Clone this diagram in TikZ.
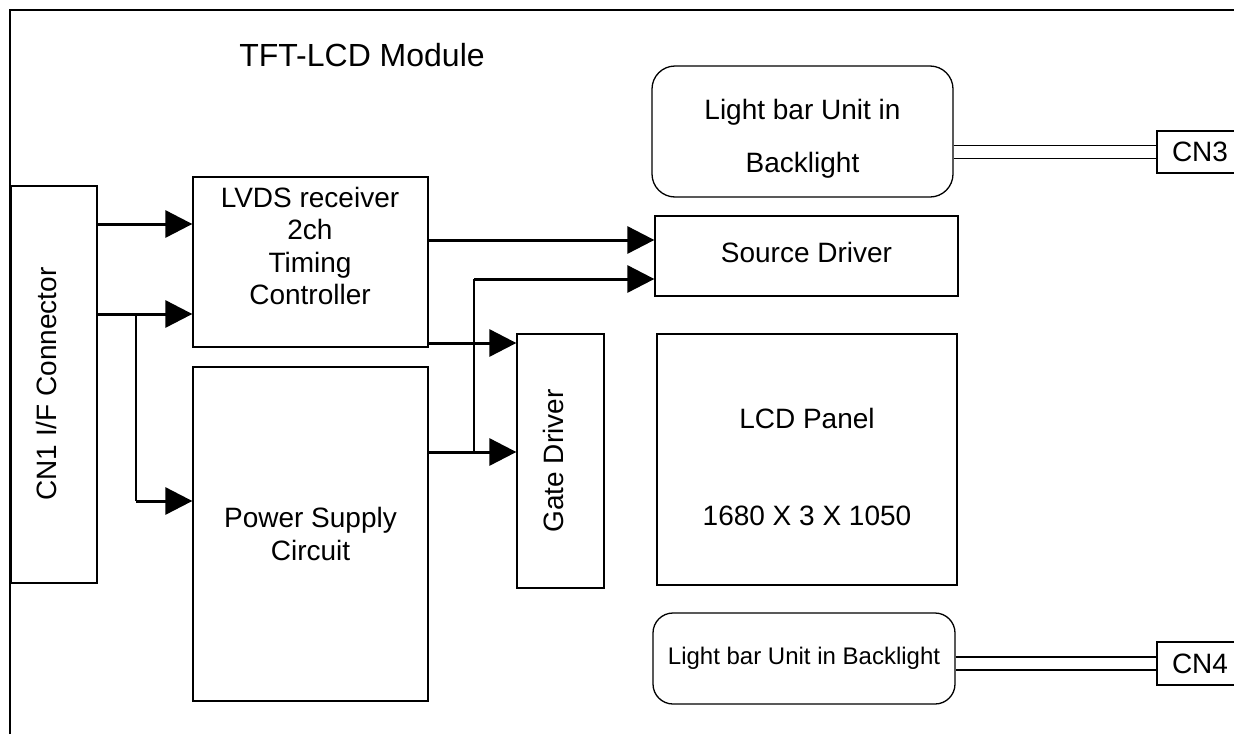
\documentclass[tikz,border=0pt]{standalone}
\usepackage{fontspec}
\setmainfont{Liberation Sans}
\usetikzlibrary{arrows.meta}

\begin{document}
\begin{tikzpicture}[
    x=1pt, y=-1pt,
    block/.style={rectangle, draw, line width=1.3pt, inner sep=0pt, align=center, font=\fontsize{28}{32.3}\selectfont},
    roundblock/.style={block, rounded corners=23pt},
    txt/.style={align=center, inner sep=0pt, font=\fontsize{28}{32.3}\selectfont},
    line/.style={draw, line width=3pt, -{Triangle[length=27pt, width=27pt]}},
    wire/.style={draw, line width=1.6pt},
    cable/.style={draw, double, line width=1.2pt, double distance=11.8pt}
]
    \useasboundingbox (0,0) rectangle (1234,734);
    \draw[line width=1.5pt] (10,734) -- (10,10) -- (1234,10);

    \node [txt, font=\fontsize{32}{36}\selectfont] (title) at (362,55) {TFT-LCD Module};

    \node [block, minimum width=86pt, minimum height=397pt] (cn1) at (54,384.5) {};
    \node [txt, rotate=90] (cn1txt) at (46,384) {CN1 I/F Connector};

    \node [block, minimum width=235pt, minimum height=170pt] (lvds) at (310.5,262) {};
    \node [txt] (lvdstxt) at (310,246) {LVDS receiver\\2ch\\Timing\\Controller};
    \node [block, minimum width=235pt, minimum height=334pt] (power) at (310.5,534) {Power Supply\\Circuit};

    \node [block, minimum width=87pt, minimum height=254pt] (gate) at (560.5,461) {};
    \node [txt, rotate=90] (gatetxt) at (553,461) {Gate Driver};

    \node [block, minimum width=303pt, minimum height=80pt] (source) at (806.5,256) {};
    \node [txt] (sourcetxt) at (806.5,252) {Source Driver};
    \node [block, minimum width=300pt, minimum height=251pt] (panel) at (807,459.5) {};
    \node [txt] (paneltxt) at (807,467) {LCD Panel\\[64pt]1680 X 3 X 1050};

    \node [roundblock, minimum width=301pt, minimum height=131pt] (lbtop) at (802.5,131.5) {};
    \node [txt] (lbtoptxt) at (802.5,138.5) {Light bar Unit in\\[21pt]Backlight};
    \node [roundblock, rounded corners=20pt, minimum width=302pt, minimum height=91pt, font=\fontsize{24}{28}\selectfont] (lbbot) at (804,658.5) {Light bar Unit in Backlight};

    \node [block, minimum width=86pt, minimum height=42pt] (cn3) at (1200,152) {CN3};
    \node [block, minimum width=86pt, minimum height=43pt] (cn4) at (1200,663.5) {CN4};

    % junctions
    \coordinate (split) at (136,314);
    \coordinate (tap) at (474,279);

    \draw [line] (cn1.east |- 0,224) -- (lvds.west |- 0,224);
    \draw [line] (cn1.east |- split) -- (lvds.west |- split);
    \draw [wire] (split) -- (split |- 0,501);
    \draw [line] (split |- 0,501) -- (power.west |- 0,501);

    \draw [line] (lvds.east |- 0,240) -- (source.west |- 0,240);
    \draw [line] (lvds.east |- 0,343) -- (gate.west |- 0,343);
    \draw [line] (power.east |- 0,452) -- (gate.west |- 0,452);
    \draw [wire] (tap |- 0,452) -- (tap);
    \draw [line] (tap) -- (source.west |- tap);

    \draw [cable] (lbtop.east |- cn3.west) -- (cn3.west);
    \draw [cable] (lbbot.east |- cn4.west) -- (cn4.west);
\end{tikzpicture}
\end{document}
